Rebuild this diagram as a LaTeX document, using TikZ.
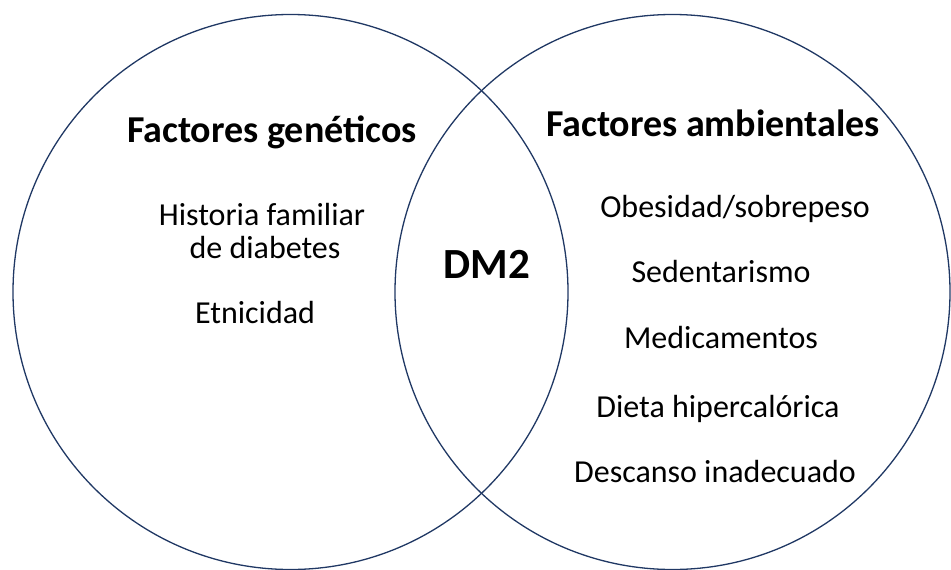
\documentclass[tikz,border=0pt]{standalone}
\usepackage{fontspec}
\setmainfont{Carlito}
\definecolor{vennline}{RGB}{32,56,100}
\begin{document}
\begin{tikzpicture}[x=1pt,y=-1pt,
  venn/.style={circle, draw=vennline, line width=1.3pt, minimum size=555pt, inner sep=0pt},
  head/.style={anchor=base, font=\fontsize{38}{44}\selectfont\bfseries},
  item/.style={anchor=base, font=\fontsize{32}{38}\selectfont},
  center/.style={anchor=base, font=\fontsize{43}{50}\selectfont\bfseries}]
\useasboundingbox (0,0) rectangle (951,570);
\node[venn] (L) at (290.5,292) {};
\node[venn] (R) at (672.5,292) {};
\node[head] (hg) at (272,142) {Factores genéticos};
\node[head] (ha) at (713,136) {Factores ambientales};
\node[item] (g1) at (262,225) {Historia familiar};
\node[item] (g2) at (265,258) {de diabetes};
\node[item] (g3) at (255,323) {Etnicidad};
\node[center] (dm) at (487,278) {DM2};
\node[item] (a1) at (735,217) {Obesidad/sobrepeso};
\node[item] (a2) at (721,282) {Sedentarismo};
\node[item] (a3) at (721,348) {Medicamentos};
\node[item] (a4) at (718,417) {Dieta hipercalórica};
\node[item] (a5) at (715,482) {Descanso inadecuado};
\end{tikzpicture}
\end{document}
